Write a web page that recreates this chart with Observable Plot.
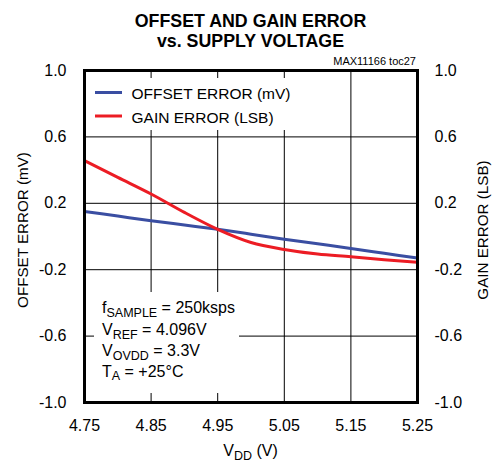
<!DOCTYPE html>
<html>
<head>
<meta charset="utf-8">
<script src="https://cdn.jsdelivr.net/npm/d3@7"></script>
<script src="https://cdn.jsdelivr.net/npm/@observablehq/plot@0.6"></script>
<style>
  body { margin: 0; background: #fff; }
  svg { display: block; }
</style>
</head>
<body>
<div id="chart"></div>
<script>
// ---- data ----
const vdd = [4.75, 4.80, 4.85, 4.90, 4.95, 5.00, 5.05, 5.10, 5.15, 5.20, 5.25];
const offsetError = [0.151, 0.123, 0.095, 0.069, 0.043, 0.014, -0.016, -0.044, -0.072, -0.101, -0.130];
const gainError = [0.457, 0.356, 0.256, 0.145, 0.043, -0.036, -0.078, -0.106, -0.122, -0.140, -0.156];
const seriesNames = ["OFFSET ERROR (mV)", "GAIN ERROR (LSB)"];
const seriesColors = ["#3a4ea2", "#ec1c24"];
const xTicks = [4.75, 4.85, 4.95, 5.05, 5.15, 5.25];
const xTickLabels = ["4.75", "4.85", "4.95", "5.05", "5.15", "5.25"];
const yTicks = [-1.0, -0.6, -0.2, 0.2, 0.6, 1.0];
const yTickLabels = ["-1.0", "-0.6", "-0.2", "0.2", "0.6", "1.0"];
const titleLines = ["OFFSET AND GAIN ERROR", "vs. SUPPLY VOLTAGE"];
const chartId = "MAX11166 toc27";
const yLabelLeft = "OFFSET ERROR (mV)";
const yLabelRight = "GAIN ERROR (LSB)";
const xLabelParts = [["V", false], ["DD", true], [" (V)", false]];
const conditions = [
  [["f", false], ["SAMPLE", true], [" = 250ksps", false]],
  [["V", false], ["REF", true], [" = 4.096V", false]],
  [["V", false], ["OVDD", true], [" = 3.3V", false]],
  [["T", false], ["A", true], [" = +25°C", false]]
];

const rows = vdd.flatMap((v, i) => [
  {vdd: v, value: offsetError[i], series: seriesNames[0]},
  {vdd: v, value: gainError[i], series: seriesNames[1]}
]);

// ---- layout ----
const W = 493, H = 464, mL = 84, mR = 76, mT = 70, mB = 62;
const FONT = "'Liberation Sans', Arial, Helvetica, sans-serif";
const cx = mL + (W - mL - mR) / 2;
const cy = mT + (H - mT - mB) / 2 - 6;

function richText(g, x, y, parts, size, subSize, anchor) {
  const t = g.append("text").attr("x", x).attr("y", y)
    .attr("font-size", size).attr("text-anchor", anchor || "start");
  let shifted = false;
  for (const [s, sub] of parts) {
    const ts = t.append("tspan").text(s);
    if (sub && !shifted) { ts.attr("font-size", subSize).attr("dy", 3.5); shifted = true; }
    else if (!sub && shifted) { ts.attr("font-size", size).attr("dy", -3.5); shifted = false; }
  }
  return t;
}

function panels() {
  const g = d3.create("svg:g").attr("fill", "white");
  g.append("rect").attr("x", 88).attr("y", 78).attr("width", 212).attr("height", 52);
  g.append("rect").attr("x", 94).attr("y", 292).attr("width", 145).attr("height", 101);
  return g.node();
}

function overlay() {
  const g = d3.create("svg:g").attr("font-family", FONT).attr("fill", "black");
  // title
  g.append("text").attr("x", cx).attr("y", 26.5).attr("text-anchor", "middle")
    .attr("font-weight", "bold").attr("font-size", 17.8).text(titleLines[0]);
  g.append("text").attr("x", cx).attr("y", 46.5).attr("text-anchor", "middle")
    .attr("font-weight", "bold").attr("font-size", 17.8).text(titleLines[1]);
  g.append("text").attr("x", W - mR - 1).attr("y", 65).attr("text-anchor", "end")
    .attr("font-size", 11).text(chartId);
  // legend
  const legY = [92.5, 116];
  const txtY = [99.3, 122.8];
  seriesNames.forEach((name, i) => {
    g.append("line").attr("x1", 95).attr("x2", 122).attr("y1", legY[i]).attr("y2", legY[i])
      .attr("stroke", seriesColors[i]).attr("stroke-width", 3);
    g.append("text").attr("x", 131.5).attr("y", txtY[i]).attr("text-anchor", "start")
      .attr("font-size", 15.5).text(name);
  });
  // conditions
  const condY = [313.3, 335, 356.3, 376.8];
  conditions.forEach((parts, i) => richText(g, 102, condY[i], parts, 16, 12.5, "start"));
  // axis labels
  richText(g, cx, 456, xLabelParts, 16, 12.5, "middle");
  g.append("text").attr("transform", `translate(28,${cy}) rotate(-90)`)
    .attr("text-anchor", "middle").attr("font-size", 15.2).text(yLabelLeft);
  g.append("text").attr("transform", `translate(487.5,${cy}) rotate(-90)`)
    .attr("text-anchor", "middle").attr("font-size", 15.2).text(yLabelRight);
  return g.node();
}

const plot = Plot.plot({
  width: W, height: H,
  marginLeft: mL, marginRight: mR, marginTop: mT, marginBottom: mB,
  style: {fontFamily: FONT, fontSize: "16px", background: "white", color: "black", overflow: "visible"},
  x: {domain: [4.75, 5.25]},
  y: {domain: [-1, 1]},
  color: {domain: seriesNames, range: seriesColors},
  marks: [
    Plot.gridX({ticks: xTicks, stroke: "black", strokeOpacity: 1, strokeWidth: 1}),
    Plot.gridY({ticks: yTicks, stroke: "black", strokeOpacity: 1, strokeWidth: 1}),
    panels,
    Plot.line(rows, {x: "vdd", y: "value", z: "series", stroke: "series", strokeWidth: 3, curve: "monotone-x"}),
    Plot.axisX({ticks: xTicks, tickSize: 0, tickPadding: 17, fontSize: 16, label: null,
      tickFormat: d => xTickLabels[xTicks.indexOf(d)]}),
    Plot.axisY({ticks: yTicks, anchor: "left", tickSize: 0, tickPadding: 18, fontSize: 16, label: null,
      tickFormat: d => yTickLabels[yTicks.indexOf(d)]}),
    Plot.axisY({ticks: yTicks, anchor: "right", tickSize: 0, tickPadding: 17, fontSize: 16, label: null,
      tickFormat: d => yTickLabels[yTicks.indexOf(d)]}),
    Plot.frame({stroke: "black", strokeWidth: 3}),
    overlay
  ]
});
document.getElementById("chart").appendChild(plot);
</script>
</body>
</html>
